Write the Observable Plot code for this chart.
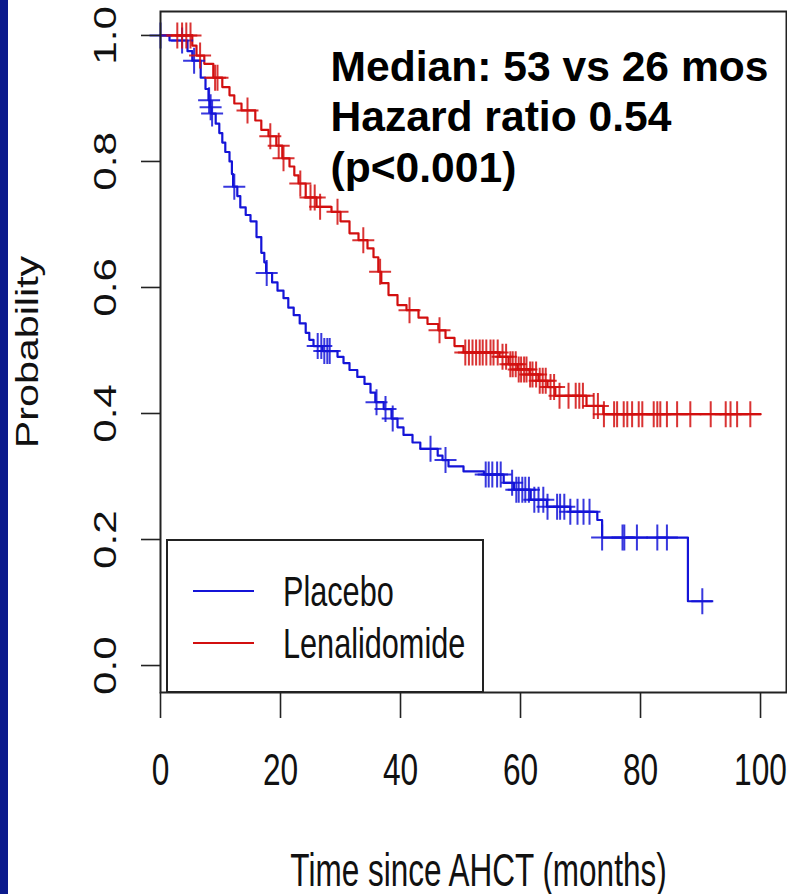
<!DOCTYPE html>
<html><head><meta charset="utf-8">
<script src="https://cdn.jsdelivr.net/npm/d3@7"></script>
<script src="https://cdn.jsdelivr.net/npm/@observablehq/plot@0.6"></script>
<style>
body{margin:0;background:#fff;}
#wrap{position:relative;width:787px;height:894px;overflow:hidden;background:#fff;}
#bar{position:absolute;left:0;top:0;width:8px;height:894px;background:#0b1a8c;}
#wrap svg{position:absolute;left:0;top:0;}
</style></head><body><div id="wrap"><div id="bar"></div></div>
<script>
// ---- data ----
const placeboTime = [0, 1.5, 4.5, 5.3, 6.7, 7.5, 8.0, 8.25, 8.5, 9.2, 9.8, 10.3, 10.8, 11.5, 11.9, 12.1, 12.8, 13.3, 14.2, 15.0, 16.0, 16.8, 17.3, 17.6, 18.6, 19.5, 20.5, 21.3, 22.2, 23.2, 24.2, 24.8, 25.5, 27.0, 29.5, 30.5, 31.5, 32.8, 34.0, 35.0, 35.8, 37.2, 38.5, 39.5, 40.5, 42.0, 43.3, 46.2, 47.0, 48.0, 50.5, 53.9, 57.2, 58.9, 61.7, 64.4, 68.3, 72.8, 73.6, 87.9, 91.9];
const placeboSurv = [1.0, 0.992, 0.975, 0.96, 0.933, 0.915, 0.897, 0.886, 0.876, 0.86, 0.845, 0.83, 0.815, 0.8, 0.78, 0.76, 0.745, 0.727, 0.715, 0.705, 0.68, 0.655, 0.64, 0.623, 0.608, 0.595, 0.583, 0.568, 0.556, 0.543, 0.528, 0.517, 0.507, 0.499, 0.49, 0.48, 0.469, 0.458, 0.447, 0.433, 0.418, 0.407, 0.392, 0.378, 0.366, 0.354, 0.344, 0.333, 0.326, 0.316, 0.308, 0.303, 0.29, 0.279, 0.263, 0.252, 0.244, 0.231, 0.203, 0.102, 0.102];
const placeboCensor = [0, 3.6, 5.6, 8.1, 8.35, 8.6, 12.3, 17.7, 26.2, 26.8, 27.3, 27.8, 28.2, 36.0, 37.5, 38.7, 45.0, 47.5, 54.2, 54.7, 55.3, 56.1, 56.7, 58.6, 59.3, 59.7, 60.3, 60.8, 61.4, 62.3, 63.0, 63.8, 64.5, 66.1, 66.6, 67.3, 68.3, 69.5, 70.5, 71.5, 73.6, 77.0, 77.3, 79.4, 82.8, 84.4, 90.3];

const lenaTime = [0, 5.3, 6.0, 7.3, 8.8, 10.3, 11.5, 12.3, 13.5, 15.8, 16.8, 18.0, 19.3, 20.3, 21.5, 22.3, 23.0, 24.2, 26.0, 28.5, 30.0, 31.5, 33.0, 34.5, 35.5, 36.3, 36.8, 38.0, 39.5, 41.0, 43.0, 44.5, 46.3, 47.5, 49.0, 50.5, 56.5, 58.0, 59.5, 61.5, 63.0, 64.5, 65.8, 71.0, 73.8, 100];
const lenaSurv = [1.0, 0.984, 0.968, 0.955, 0.933, 0.918, 0.905, 0.892, 0.881, 0.865, 0.85, 0.84, 0.825, 0.805, 0.792, 0.778, 0.765, 0.743, 0.728, 0.72, 0.705, 0.686, 0.675, 0.662, 0.648, 0.625, 0.607, 0.588, 0.572, 0.564, 0.552, 0.542, 0.532, 0.52, 0.507, 0.497, 0.49, 0.478, 0.47, 0.462, 0.452, 0.442, 0.428, 0.412, 0.399, 0.399];
const lenaCensor = [2.8, 3.6, 4.3, 5.0, 6.6, 9.1, 9.5, 14.5, 18.3, 19.7, 20.5, 23.3, 25.0, 25.7, 26.6, 29.5, 33.8, 36.6, 41.5, 46.5, 50.8, 51.4, 52.0, 52.6, 53.2, 53.7, 54.3, 55.0, 55.5, 56.2, 57.0, 57.6, 58.3, 58.7, 59.2, 59.7, 60.1, 60.6, 61.0, 61.6, 62.0, 62.6, 63.2, 63.7, 64.2, 65.0, 65.6, 66.5, 68.0, 69.2, 69.8, 70.4, 72.2, 72.9, 73.9, 75.6, 76.1, 77.2, 77.8, 78.6, 79.7, 80.3, 82.2, 82.8, 83.3, 84.4, 86.1, 88.3, 91.7, 94.2, 95.0, 96.1, 98.3];

const xTicks = [0, 20, 40, 60, 80, 100];
const yTicks = [0, 0.2, 0.4, 0.6, 0.8, 1.0];
const seriesNames = ["Placebo", "Lenalidomide"];
const seriesColors = ["#1414d8", "#d20f0f"];
const annotationLines = ["Median: 53 vs 26 mos", "Hazard ratio 0.54", "(p<0.001)"];
const xTitle = "Time since AHCT (months)";
const yTitle = "Probability";

// ---- build tables ----
function stepAt(times, surv, t) { const i = d3.bisectRight(times, t) - 1; return surv[Math.max(0, i)]; }
const curves = [
  ...placeboTime.map((t, i) => ({group: seriesNames[0], t, s: placeboSurv[i]})),
  ...lenaTime.map((t, i) => ({group: seriesNames[1], t, s: lenaSurv[i]}))
];
const censors = [
  ...placeboCensor.map(t => ({group: seriesNames[0], t, s: stepAt(placeboTime, placeboSurv, t)})),
  ...lenaCensor.map(t => ({group: seriesNames[1], t, s: stepAt(lenaTime, lenaSurv, t)}))
];
const censorSymbol = {draw(ctx) { ctx.moveTo(-11, 0); ctx.lineTo(11, 0); ctx.moveTo(0, -13); ctx.lineTo(0, 13); }};
const FONT = "'Liberation Sans', Arial, Helvetica, sans-serif";
const yTickText = d => d.toFixed(1);

const svg = Plot.plot({
  width: 787, height: 894,
  marginLeft: 160, marginRight: 1, marginTop: 11, marginBottom: 202,
  x: {domain: [0, 104.33]},
  y: {domain: [-0.0428, 1.038]},
  color: {domain: seriesNames, range: seriesColors},
  style: {fontFamily: FONT, background: "transparent", color: "#111"},
  marks: [
    Plot.line(curves, {x: "t", y: "s", z: "group", stroke: "group", curve: "step-after", strokeWidth: 2.2}),
    Plot.dot(censors, {x: "t", y: "s", stroke: "group", fill: "none", symbol: censorSymbol, strokeWidth: 2, strokeOpacity: 0.85}),
    Plot.frame({stroke: "#222", strokeWidth: 2}),
    Plot.axisX({ticks: xTicks, tickSize: 26, tickPadding: 35, fontSize: 44, label: null, strokeWidth: 1.6, stroke: "#222", fill: "#111", tickFormat: d => String(d)}),
    Plot.axisY({ticks: yTicks, tickSize: 19, tickFormat: () => "", label: null, strokeWidth: 1.6, stroke: "#222"}),
    Plot.text(yTicks, {y: d => d, text: yTickText, frameAnchor: "left", dx: -45, rotate: -90, textAnchor: "middle", lineAnchor: "bottom", fontSize: 32, fill: "#111"}),
    Plot.text([xTitle], {frameAnchor: "bottom", dx: 5, dy: 193, lineAnchor: "bottom", textAnchor: "middle", fontSize: 46, fill: "#111"}),
    Plot.text([yTitle], {frameAnchor: "left", dx: -123, rotate: -90, textAnchor: "middle", lineAnchor: "bottom", fontSize: 31, fill: "#111"}),
    Plot.text([annotationLines.join("\n")], {frameAnchor: "top-left", dx: 170, dy: 34, lineAnchor: "top", textAnchor: "start", fontSize: 42.6, fontWeight: "bold", lineHeight: 1.18, fill: "#000"})
  ]
});
document.getElementById("wrap").appendChild(svg);

// ---- anisotropic text stretch like the original bitmap ----
function squashEl(el, sx, sy) {
  const t = el.getAttribute("transform") || "";
  if (t.includes("translate")) {
    el.setAttribute("transform", `${t} scale(${sx},${sy})`);
  } else {
    const x = +(el.getAttribute("x") || 0), y = +(el.getAttribute("y") || 0);
    el.removeAttribute("x");
    el.setAttribute("transform", `translate(${x},${y}) ${t} scale(${sx},${sy})`);
  }
}
const root = d3.select(svg);
const xTickLabels = new Set(xTicks.map(String));
const yTickLabels = new Set(yTicks.map(yTickText));
root.selectAll("text").each(function () {
  const s = this.textContent;
  const rotated = (this.getAttribute("transform") || "").includes("rotate");
  if (s === xTitle) squashEl(this, 0.685, 1);
  else if (s === yTitle) squashEl(this, 1.33, 1);
  else if (rotated && yTickLabels.has(s)) squashEl(this, 1.32, 1);
  else if (!rotated && xTickLabels.has(s)) squashEl(this, 0.72, 1);
});

// ---- legend box (R legend, bottom-left inside frame) ----
const fx = svg.scale("x"), fy = svg.scale("y");
const L = fx.range[0], B = fy.range[0];
const lg = root.append("g").attr("aria-label", "legend");
lg.append("rect").attr("x", L + 7).attr("y", B - 152).attr("width", 316).attr("height", 152)
  .attr("fill", "#fff").attr("stroke", "#222").attr("stroke-width", 2);
seriesNames.forEach((name, i) => {
  const ly = B - 101 + i * 52;
  lg.append("line").attr("x1", L + 33).attr("x2", L + 94).attr("y1", ly).attr("y2", ly)
    .attr("stroke", seriesColors[i]).attr("stroke-width", 1.8);
  lg.append("text").attr("transform", `translate(${L + 123},${ly + 15}) scale(0.73,1)`)
    .attr("text-anchor", "start")
    .attr("font-family", FONT).attr("font-size", 42).attr("fill", "#111").text(name);
});
</script></body></html>
